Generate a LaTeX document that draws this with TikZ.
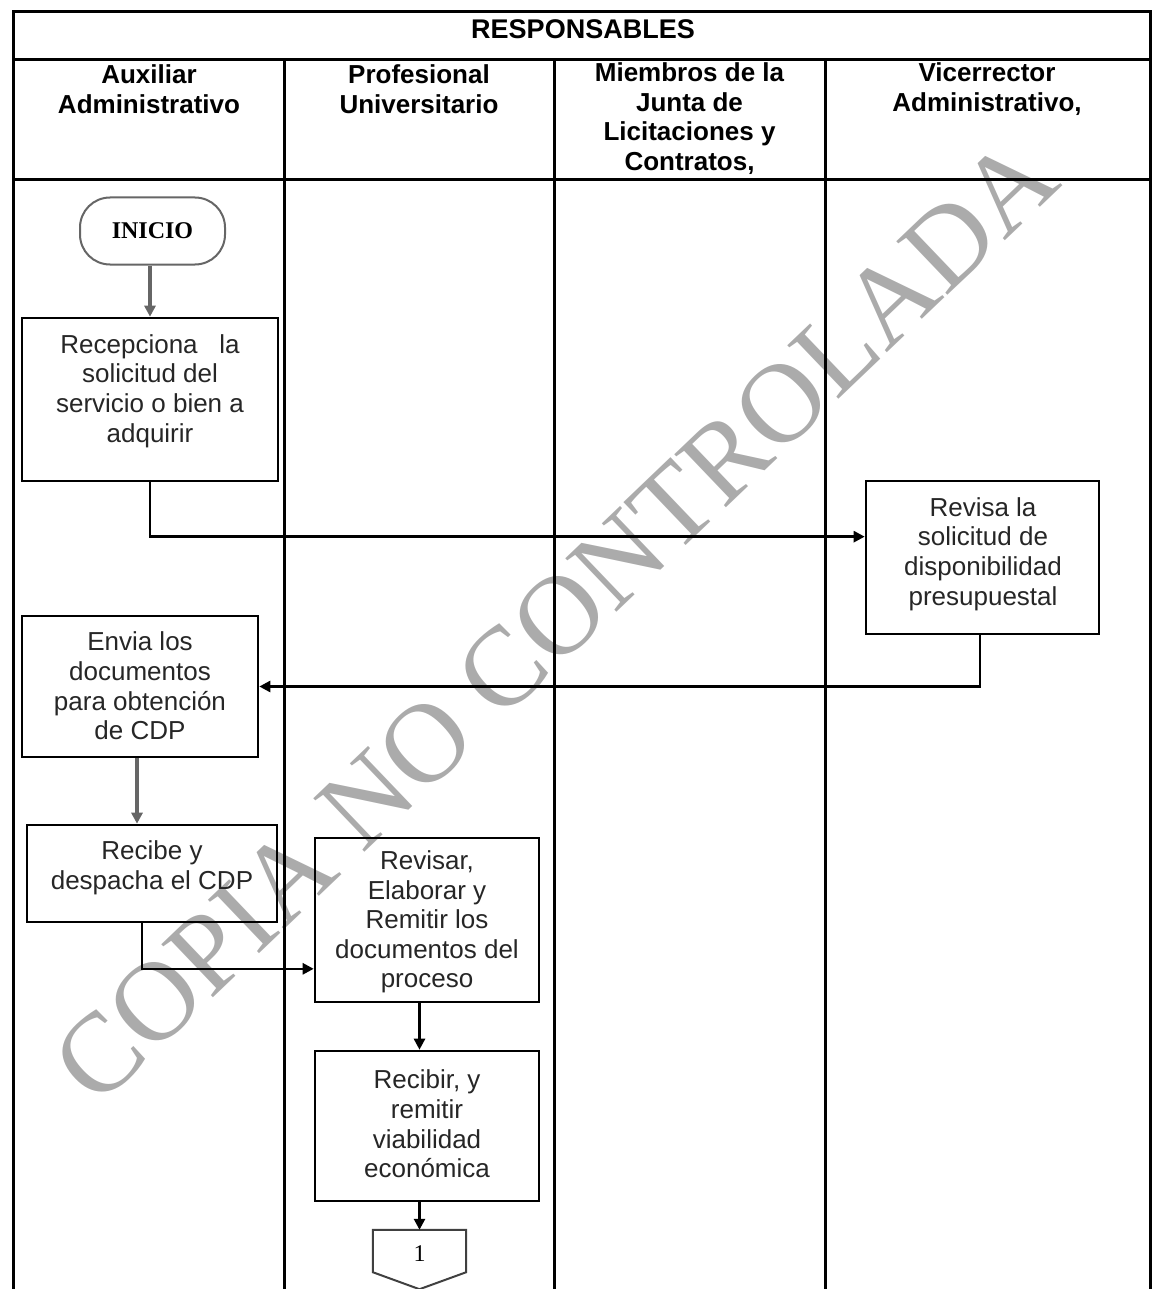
\documentclass[tikz,border=0pt]{standalone}
\usepackage{fontspec}
\setmainfont{Liberation Sans}
\newfontfamily\serifface{Liberation Serif}
\usetikzlibrary{arrows.meta,calc}
\begin{document}
\begin{tikzpicture}[x=1pt,y=-1pt,
  frame/.style={line width=3pt,black},
  stepbox/.style={draw=black,line width=2.6pt,inner sep=0pt},
  bodytxt/.style={align=center,inner sep=0pt,text=black!85,
    font=\fontsize{26}{29.6}\selectfont},
  headtxt/.style={align=center,inner sep=0pt,
    font=\bfseries\fontsize{26}{29.7}\selectfont},
  flow/.style={line width=2.6pt,draw=black,
    -{Triangle[length=11pt,width=11pt]}},
  grayflow/.style={flow,draw=black!60,line width=4pt},
]
\useasboundingbox (0,0) rectangle (1152,1289);

% watermark behind everything
\node[rotate=43.7,inner sep=0pt,text=black!33,
  font=\serifface\fontsize{113}{113}\selectfont] (wm) at (555,620)
  {COPIA NO CONTROLADA};

% table frame
\draw[frame] (13,1289) -- (13,12) -- (1150,12) -- (1150,1289);
\draw[frame] (13,60) -- (1150,60);
\draw[frame] (13,180) -- (1150,180);
\foreach \cx in {284,554,825} \draw[frame] (\cx,60) -- (\cx,1289);

% headings
\node[headtxt,font=\bfseries\fontsize{27}{30}\selectfont] (hresp) at (583,29) {RESPONSABLES};
\node[headtxt] (h1) at (149,89) {Auxiliar\\Administrativo};
\node[headtxt] (h2) at (419,89) {Profesional\\Universitario};
\node[headtxt] (h3) at (689.5,118.5) {Miembros de la\\Junta de\\Licitaciones y\\Contratos,};
\node[headtxt] (h4) at (987,89) {Vicerrector\\Administrativo,};

% start terminal
\node[draw=black!60,line width=2pt,rounded corners=30pt,
  minimum width=145pt,minimum height=67pt,inner sep=0pt,
  font=\serifface\bfseries\fontsize{24}{24}\selectfont] (inicio) at (152.5,231) {INICIO};

% process boxes
\node[stepbox,minimum width=256pt,minimum height=163pt] (recep) at (150,399.5) {};
\node[bodytxt] (trecep) at (150,391) {Recepciona~~~la\\solicitud del\\servicio o bien a\\adquirir};

\node[stepbox,minimum width=233pt,minimum height=153pt] (revisa) at (982.5,557.5) {};
\node[bodytxt] (trevisa) at (983,554) {Revisa la\\solicitud de\\disponibilidad\\presupuestal};

\node[stepbox,minimum width=236pt,minimum height=141pt] (envia) at (140,686.5) {};
\node[bodytxt] (tenvia) at (140,686) {Envia los\\documentos\\para obtención\\de CDP};

\node[stepbox,minimum width=250pt,minimum height=97pt] (recibe) at (152,873.5) {};
\node[bodytxt] (trecibe) at (152,868) {Recibe y\\despacha el CDP};

\node[stepbox,minimum width=224pt,minimum height=164pt] (revisar) at (427,920) {};
\node[bodytxt] (trevisar) at (427,922) {Revisar,\\Elaborar y\\Remitir los\\documentos del\\proceso};

\node[stepbox,minimum width=224pt,minimum height=150pt] (recibir) at (427,1126) {};
\node[bodytxt] (trecibir) at (427,1124) {Recibir, y\\remitir\\viabilidad\\económica};

% off-page connector
\node[minimum width=93pt,minimum height=59pt,inner sep=0pt] (conn) at (419.5,1259.5) {};
\draw[black!75,line width=2pt,line join=miter]
  (conn.north west) -- (conn.north east) -- ($(conn.south east)+(0,-17)$)
  -- (conn.south) -- ($(conn.south west)+(0,-17)$) -- cycle;
\node[inner sep=0pt,font=\serifface\fontsize{24}{24}\selectfont] (tconn) at (419.5,1254) {1};

% connectors
\draw[grayflow] (inicio.south -| recep.north) -- (recep.north);
\draw[flow] (recep.south) |- ($(revisa.north west)!0.366!(revisa.south west)$);
\draw[flow] ([xshift=-2.5pt]revisa.south) |- (envia.east);
\draw[grayflow] ([xshift=-3pt]envia.south) -- ([xshift=-3pt]envia.south |- recibe.north);
\draw[flow] ([xshift=-10pt]recibe.south) |- ($(revisar.north west)!0.793!(revisar.south west)$);
\draw[flow] (revisar.south -| conn.north) -- (recibir.north -| conn.north);
\draw[flow] (recibir.south -| conn.north) -- (conn.north);
\end{tikzpicture}
\end{document}
